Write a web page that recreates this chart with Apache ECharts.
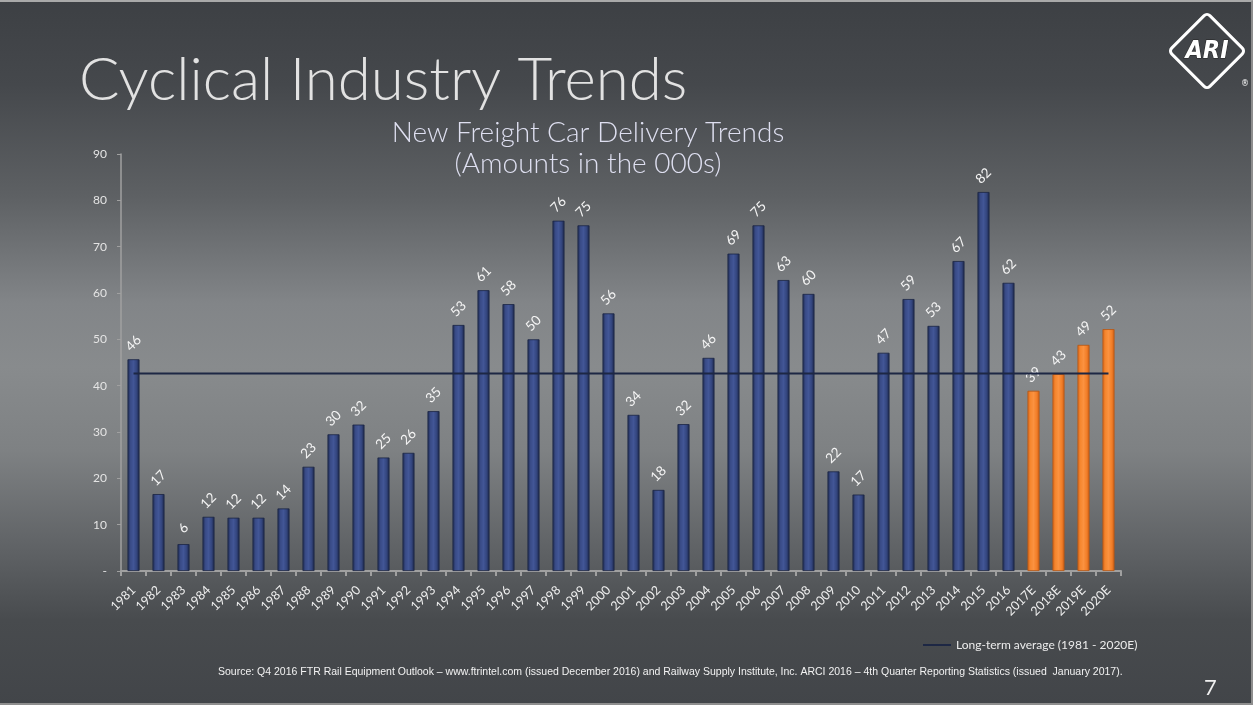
<!DOCTYPE html>
<html>
<head>
<meta charset="utf-8">
<script src="https://cdn.jsdelivr.net/npm/echarts@6/dist/echarts.min.js"></script>
<style>
html,body{margin:0;padding:0;}
body{width:1253px;height:705px;overflow:hidden;
background:linear-gradient(to bottom,#3d4044 0%,#45484c 12%,#5e6164 28%,#828588 43%,#888b8d 52%,#7e8183 64%,#5f6265 78%,#484b4e 88%,#424549 100%);}
#frame{position:absolute;left:0;top:0;border-top:2px solid #a9a9a9;border-right:2px solid #8e8e8e;border-bottom:2px solid #8e8e8e;box-sizing:border-box;width:1253px;height:705px;}
#chart{position:absolute;left:0;top:0;width:1253px;height:705px;}
</style>
</head>
<body>
<div id="frame"></div>
<div id="chart"></div>
<script>
const categories = ['1981','1982','1983','1984','1985','1986','1987','1988','1989','1990','1991','1992','1993','1994','1995','1996','1997','1998','1999','2000','2001','2002','2003','2004','2005','2006','2007','2008','2009','2010','2011','2012','2013','2014','2015','2016','2017E','2018E','2019E','2020E'];
const deliveries = [45.7,16.6,5.8,11.7,11.5,11.5,13.5,22.5,29.5,31.6,24.5,25.5,34.5,53.1,60.6,57.6,50.0,75.6,74.6,55.6,33.7,17.5,31.7,46.0,68.5,74.6,62.8,59.8,21.5,16.5,47.1,58.7,52.9,66.9,81.8,62.2,38.9,42.5,48.8,52.2];
const deliveryLabels = [46,17,6,12,12,12,14,23,30,32,25,26,35,53,61,58,50,76,75,56,34,18,32,46,69,75,63,60,22,17,47,59,53,67,82,62,39,43,49,52];
const longTermAverage = 42.6;
const yTicks = [0,10,20,30,40,50,60,70,80,90];

const blueGrad = new echarts.graphic.LinearGradient(0,0,1,0,[
  {offset:0,color:'#1f2b4f'},{offset:0.25,color:'#394b87'},{offset:0.5,color:'#425696'},{offset:0.75,color:'#34467f'},{offset:1,color:'#1c2748'}]);
const orangeGrad = new echarts.graphic.LinearGradient(0,0,1,0,[
  {offset:0,color:'#d8681c'},{offset:0.25,color:'#f6872f'},{offset:0.5,color:'#fb9240'},{offset:0.75,color:'#f3802a'},{offset:1,color:'#cf6118'}]);

const chart = echarts.init(document.getElementById('chart'), null, {renderer:'canvas'});
const option = {
  animation:false,
  backgroundColor:'transparent',
  grid:{left:121,right:132,top:154,bottom:134,containLabel:false},
  legend:{
    data:['Long-term average (1981 - 2020E)'],
    left:918, top:634, itemWidth:28, itemHeight:2, icon:'rect', itemGap:4,
    textStyle:{color:'#ececec',fontFamily:'Lato, "Open Sans", sans-serif',fontSize:12}
  },
  xAxis:{
    type:'category', data:categories, boundaryGap:true,
    axisLine:{lineStyle:{color:'#a0a0a0',width:2}},
    axisTick:{show:true,length:5,lineStyle:{color:'#a0a0a0',width:2}},
    axisLabel:{rotate:45,color:'#f0f0f0',fontFamily:'Lato, "Open Sans", sans-serif',fontSize:12.5,margin:17,interval:0}
  },
  yAxis:{
    type:'value', min:0, max:90, interval:10,
    splitLine:{show:false},
    axisLine:{show:true,lineStyle:{color:'#a0a0a0',width:1.5}},
    axisTick:{show:true,length:4,lineStyle:{color:'#a0a0a0'}},
    axisLabel:{color:'#e4e4e4',fontFamily:'Lato, "Open Sans", sans-serif',fontSize:12,margin:14,
      formatter:function(v){return yTicks.indexOf(v)===0?'-':String(v);}}
  },
  series:[
    {
      name:'New Freight Car Deliveries', type:'bar', barWidth:12,
      data:deliveries.map(function(v,i){
        return {value:v,itemStyle:{color:categories[i].endsWith('E')?orangeGrad:blueGrad,
          borderColor:categories[i].endsWith('E')?'#b85510':'#1a2444',borderWidth:0.8}};
      }),
      label:{show:true,position:'top',distance:16,rotate:45,align:'center',verticalAlign:'middle',
        color:'#f4f4f4',fontFamily:'Lato, "Open Sans", sans-serif',fontSize:13.5,
        formatter:function(p){return String(deliveryLabels[p.dataIndex]);}},
      z:2
    },
    {
      name:'Long-term average (1981 - 2020E)', type:'line', symbol:'none',
      data:[[categories[0],longTermAverage],[categories[categories.length-1],longTermAverage]],
      lineStyle:{color:'#1d2744',width:2},
      itemStyle:{color:'#1d2744'},
      z:3
    }
  ],
  graphic:[
    {type:'text',left:79,top:51,style:{text:'Cyclical Industry Trends',fill:'#e2e2e2',
      font:'300 60px Lato, "DejaVu Sans", sans-serif'}},
    {type:'text',x:588,y:117,style:{text:'New Freight Car Delivery Trends\n(Amounts in the 000s)',
      fill:'#dedff0',textAlign:'center',font:'300 28px Lato, "DejaVu Sans", sans-serif',lineHeight:31}},
    {type:'text',left:218,top:667,style:{text:'Source: Q4 2016 FTR Rail Equipment Outlook \u2013 www.ftrintel.com (issued December 2016) and Railway Supply Institute, Inc. ARCI 2016 \u2013 4th Quarter Reporting Statistics (issued  January 2017).',
      fill:'#f2f2f2',font:'10.5px "Liberation Sans", Arial, sans-serif'}},
    {type:'text',left:1204,top:677,style:{text:'7',fill:'#f0f0f0',font:'22px Lato, "Open Sans", sans-serif'}},
    {type:'rect',x:1207,y:51,rotation:Math.PI/4,shape:{x:-27,y:-27,width:54,height:54,r:4},
      style:{fill:'none',stroke:'#ffffff',lineWidth:3}},
    {type:'text',x:1207,y:51,style:{text:'ARI',fill:'#ffffff',stroke:'#222',lineWidth:1,textAlign:'center',textVerticalAlign:'middle',
      font:'italic bold 25px "DejaVu Sans Condensed", "DejaVu Sans", sans-serif'}},
    {type:'text',x:1245,y:84,style:{text:'\u00ae',fill:'#ffffff',textAlign:'center',textVerticalAlign:'middle',font:'8px "DejaVu Sans", sans-serif'}}
  ]
};
chart.setOption(option);
</script>
</body>
</html>
